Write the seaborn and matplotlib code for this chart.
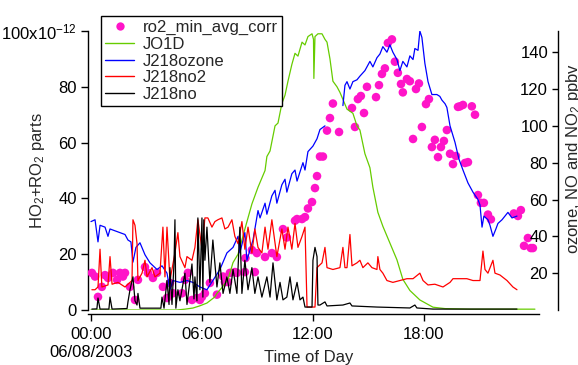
import numpy as np
import pandas as pd
import matplotlib
matplotlib.use("Agg")
import matplotlib.pyplot as plt
import seaborn as sns
from matplotlib.lines import Line2D
from matplotlib.ticker import FixedLocator, FuncFormatter

# ---------------- data ----------------
# time in hours after 00:00 on 06/08/2003
ro2_t = [0.05, 0.22, 0.38, 0.59, 0.76, 0.92, 1.19, 1.41, 1.57, 1.73, 1.84, 2.11, 2.38, 2.54,
         2.92, 3.08, 3.35, 3.57, 3.89, 4.11, 4.27, 4.43, 4.92, 5.08, 5.24, 5.46, 5.73, 5.89,
         6.00, 6.16, 6.43, 6.81, 7.14, 7.24, 7.41, 7.51, 7.78, 7.89, 8.32, 8.35, 8.70, 8.86,
         8.97, 9.41, 9.78, 10.05, 10.38, 10.59, 11.03, 11.14, 11.41, 11.57, 11.73, 11.95,
         12.11, 12.22, 12.38, 12.54, 12.76, 12.92, 13.08, 13.41, 14.11, 14.27, 14.43, 14.59,
         14.76, 14.92, 15.41, 15.57, 15.73, 15.89, 16.05, 16.27, 16.43, 16.59, 16.76, 16.86,
         17.08, 17.24, 17.41, 17.57, 17.73, 17.89, 18.11, 18.27, 18.43, 18.59, 18.76, 18.92,
         19.08, 19.24, 19.41, 19.57, 19.73, 19.84, 19.95, 20.11, 20.22, 20.38, 20.59, 20.76,
         20.92, 21.08, 21.24, 21.46, 21.62, 22.86, 23.08, 23.24, 23.41, 23.62, 23.78, 23.89]
# HO2+RO2 in units of 1e-12
ro2_v = [13.3, 12, 4.7, 8.3, 12.5, 11.5, 13.3, 10.8, 13.3, 12, 13.3, 8.3, 3.6, 10.8,
         15.4, 13.3, 11.5, 13.3, 8.3, 4.3, 9.7, 6, 6, 10.8, 13.3, 3.6, 4.3, 3.6,
         4.7, 6, 9.7, 5.5, 12, 10, 10, 13.3, 13.6, 13.3, 13.6, 18.6, 21.5, 13.6,
         20.4, 19, 20.4, 19, 29, 26, 32, 32.6, 32.6, 33.3, 36.4, 38.7,
         43.7, 48, 55, 55, 64.3, 68.8, 74, 63.8, 72.4, 65.6, 75.6, 76.7,
         70.6, 80, 76.3, 80.6, 84.6, 86.6, 95.7, 97, 89, 85, 81, 78,
         82.8, 82, 61.3, 79.2, 81.2, 65.6, 73.8, 75.6, 58.4, 61, 54.8, 58.4,
         60.6, 64.5, 56, 52.3, 55.2, 72.8, 73, 73.5, 52.7, 53, 73, 70,
         41.2, 38.4, 38.4, 34.2, 32.5, 34.6, 33.7, 35.8, 23, 25.8, 22.2, 22.2]

# JO1D, relative to full scale of its own (hidden) axis
jo1d_t = [0.00, 3.19, 4.65, 5.08, 5.51, 5.89, 6.27, 6.70, 6.81, 7.08, 7.41, 7.68, 7.95, 8.32,
          8.70, 9.03, 9.41, 9.51, 9.68, 9.95, 10.11, 10.32, 10.49, 10.65, 10.86, 11.03, 11.19,
          11.41, 11.57, 11.73, 11.95, 12.03, 12.05, 12.11, 12.27, 12.49, 12.65, 12.76, 12.92,
          13.08, 13.30, 13.46, 13.84, 14.16, 14.38, 14.54, 14.81, 15.08, 15.24, 15.51, 15.78,
          16.16, 16.54, 16.86, 17.24, 17.78, 18.49, 19.14, 20.49, 24.00]
jo1d_v = [0, 0, 0, 0.3, 0.7, 1.5, 2.5, 4.7, 6, 8, 11, 17, 20, 29,
          38, 44, 50, 55, 57, 66, 67, 74, 77, 82, 88, 92, 91,
          96, 95, 98, 99, 97, 83, 98, 99, 99, 97, 96, 90,
          82, 80, 78, 72, 70.5, 66, 64.5, 56, 51, 44, 35, 30,
          24, 18, 11, 7, 3.6, 1, 0.5, 0.3, 0.3]

# ozone (ppbv); NaN marks the data gap
ozone_t = [0.00, 0.22, 0.38, 0.49, 0.76, 0.92, 1.03, 1.30, 1.57, 1.84, 2.00, 2.16, 2.27, 2.43,
           2.65, 2.92, 3.19, 3.57, 3.84, 4.11, 4.27, 4.43, 4.81, 5.19, 5.51, 5.89, 6.27, 6.59,
           6.97, 7.35, 7.68, 7.95, 8.05, 8.32, 8.43, 8.76, 9.03, 9.14, 9.41, 9.51, 9.78, 9.95,
           10.05, 10.32, 10.49, 10.59, 10.86, 11.03, 11.14, 11.46, 11.57, 11.73, 12.00, 12.22,
           12.38, 12.65, 13.10, 13.62, 13.73, 13.84, 14.00, 14.16, 14.38, 14.54, 14.81, 15.08,
           15.24, 15.46, 15.62, 15.78, 16.00, 16.16, 16.32, 16.54, 16.70, 16.86, 17.08, 17.24,
           17.41, 17.51, 17.68, 17.78, 17.89, 18.05, 18.22, 18.43, 18.70, 18.86, 18.97, 19.14,
           19.24, 19.41, 19.68, 19.89, 20.11, 20.38, 20.65, 20.92, 21.03, 21.14, 21.24, 21.46,
           21.57, 21.73, 21.89, 22.00, 22.22, 22.38, 22.54, 22.76, 23.03]
ozone_v = [48, 49, 37, 46, 45, 40, 44, 43, 42, 41, 38, 37, 26, 34,
           36.5, 30, 25.6, 22, 24, 20, 11, 16, 15, 16, 15, 12.5, 11, 16,
           22, 31, 34, 40, 31, 42, 27, 38, 54, 50, 58, 52, 62, 65,
           58, 68, 71, 64, 74, 76, 70, 80, 76, 86, 89, 93,
           98, 100, np.nan, 111, 122, 124, 120, 124, 125, 127, 130, 135,
           132, 137, 139, 143, 140, 144, 140, 136, 130, 135, 132, 138,
           136, 142, 141, 151.5, 148, 134, 124, 117, 117, 116, 114, 112,
           110, 100, 91, 82, 76, 69, 64, 60, 57, 45, 51, 49,
           46, 40, 44, 47, 49, 51, 53, 50, 51]

# NO2 (ppbv)
no2_t = [0.05, 0.22, 0.38, 0.49, 0.59, 0.92, 1.03, 1.14, 1.46, 1.84, 2.11, 2.22, 2.27, 2.38,
         2.49, 2.54, 2.76, 2.92, 3.03, 3.30, 3.46, 3.73, 3.89, 4.00, 4.11, 4.27, 4.54, 4.70,
         4.81, 5.08, 5.19, 5.46, 5.62, 5.78, 6.00, 6.16, 6.32, 6.54, 6.70, 6.86, 7.08, 7.24,
         7.41, 7.62, 7.78, 7.95, 8.16, 8.32, 8.49, 8.70, 8.86, 9.03, 9.24, 9.41, 9.57, 9.78,
         10.05, 10.32, 10.49, 10.65, 10.86, 11.03, 11.19, 11.41, 11.57, 11.68, 12.11, 12.22,
         12.49, 12.65, 12.76, 13.08, 13.46, 13.62, 13.73, 13.84, 14.00, 14.11, 14.38, 14.54,
         14.70, 14.97, 15.19, 15.46, 15.51, 15.62, 15.78, 16.00, 16.32, 16.70, 17.08, 17.41,
         17.78, 17.95, 18.22, 18.59, 19.03, 19.41, 19.57, 19.95, 20.32, 20.65, 21.03, 21.19,
         21.30, 21.46, 21.73, 21.84, 22.11, 22.49, 22.81, 23.03]
no2_v = [11, 11, 12.5, 33, 12.5, 13.6, 29, 14, 15, 12.5, 15, 16, 49, 46,
         36, 16, 20, 27, 18, 23, 18, 20, 45, 18, 45, 16, 31, 42,
         29, 23, 29, 27, 34, 49, 33, 50, 50, 45, 48, 49, 50, 44,
         45, 49, 40, 36, 48, 33, 45, 31, 44, 34, 31, 45, 33, 49,
         29, 44, 33, 45, 33, 47, 34, 40, 45, 1.6, 1.6, 23,
         25.6, 34, 23, 22, 23, 34, 23, 23, 41, 24, 25.6, 27,
         23, 25.6, 23, 22, 29, 22, 20, 16, 15, 16, 17, 17,
         20, 16, 13.6, 14, 12.5, 15, 17, 17, 17, 16, 16, 32,
         22, 20, 27, 20, 19, 16, 12.5, 11]

# NO (ppbv)
no_t = [0.05, 0.32, 0.38, 0.49, 0.97, 1.03, 1.14, 1.95, 2.00, 2.11, 2.27, 2.38, 2.49, 2.54,
        2.65, 3.78, 3.84, 3.95, 4.11, 4.22, 4.27, 4.38, 4.49, 4.54, 4.59, 4.70, 4.81, 5.08,
        5.19, 5.46, 5.57, 5.62, 5.73, 5.78, 5.89, 6.00, 6.05, 6.10, 6.16, 6.27, 6.43, 6.59,
        6.81, 6.97, 7.14, 7.35, 7.51, 7.68, 7.89, 8.05, 8.16, 8.32, 8.49, 8.70, 8.86, 9.03,
        9.24, 9.51, 9.68, 9.84, 10.05, 10.22, 10.38, 10.59, 10.76, 10.92, 11.14, 11.30, 11.46,
        11.57, 11.95, 12.00, 12.11, 12.22, 12.27, 12.38, 12.65, 12.76, 13.62, 14.00, 14.11,
        15.46, 17.24, 17.51, 17.62, 18.49, 23.03]
no_v = [0.5, 0.6, 6.5, 0.5, 0.5, 7, 0.5, 0.8, 4.4, 11, 18, 5, 2.7, 9,
        1, 1, 7, 1, 16, 3, 23, 3, 25.6, 49, 1, 11, 5, 20,
        3, 25, 6, 18, 5, 50, 11, 50, 7, 49, 27, 45, 15, 38,
        12.5, 25.6, 9, 18, 9, 22, 9, 45, 9, 27, 11, 23, 9, 18,
        7, 18, 7, 25.6, 5.5, 15, 5.5, 7, 18, 5.5, 15, 5.5, 7,
        1.6, 1.6, 27, 34, 29, 2.7, 2.7, 4.4, 2.2, 2.7, 3.8, 2.2,
        1.6, 1.1, 2.7, 1.1, 0.5, 0.5]

legend_labels = ["ro2_min_avg_corr", "JO1D", "J218ozone", "J218no2", "J218no"]
x_ticks = [0, 6, 12, 18]
x_ticklabels = ["00:00\n06/08/2003", "06:00", "12:00", "18:00"]
left_ticks = [0, 20, 40, 60, 80, 100]
right_ticks = [20, 40, 60, 80, 100, 120, 140]

# ---------------- style ----------------
PINK = "#ff14c8"
GREEN = "#66cc00"
BLUE = "#0000ff"
RED = "#ff0000"
BLACK = "#000000"
FS = 12
LW = 0.9

sns.set_style("ticks")
plt.rcParams["font.family"] = ["Liberation Sans", "DejaVu Sans"]
plt.rcParams["mathtext.fontset"] = "custom"
plt.rcParams["mathtext.rm"] = "Liberation Sans"
plt.rcParams["mathtext.it"] = "Liberation Sans:italic"
plt.rcParams["mathtext.bf"] = "Liberation Sans:bold"

W, H = 578, 365
fig = plt.figure(figsize=(W / 100, H / 100), dpi=100)
fig.patch.set_facecolor("white")
ax = fig.add_axes([88 / W, 1 - 310 / H, 451 / W, 279 / H])
ax.set_facecolor("none")
ax_j = ax.twinx()
ax2 = ax.twinx()

# pink markers on left axis
sns.scatterplot(x=ro2_t, y=ro2_v, ax=ax, color=PINK, s=38, edgecolor="none",
                linewidth=0, legend=False, zorder=3)

# JO1D on a hidden axis
sns.lineplot(x=jo1d_t, y=jo1d_v, ax=ax_j, color=GREEN, linewidth=LW, estimator=None)
ax_j.set_ylim(0, 100)
ax_j.axis("off")

# ozone / NO2 / NO on right axis
oz = pd.DataFrame({"t": ozone_t, "v": ozone_v})
oz["seg"] = oz["v"].isna().cumsum()
oz = oz.dropna()
sns.lineplot(data=oz, x="t", y="v", units="seg", estimator=None, ax=ax2,
             color=BLUE, linewidth=LW)
sns.lineplot(x=no2_t, y=no2_v, ax=ax2, color=RED, linewidth=LW, estimator=None)
sns.lineplot(x=no_t, y=no_v, ax=ax2, color=BLACK, linewidth=LW, estimator=None)

# ---------------- axes ----------------
ax.set_xlim(-0.16, 24.22)
ax.set_ylim(0, 100)
ax.xaxis.set_major_locator(FixedLocator(x_ticks))
ax.set_xticklabels(x_ticklabels)
ax.yaxis.set_major_locator(FixedLocator(left_ticks))
ax.yaxis.set_major_formatter(FuncFormatter(
    lambda v, p: r"100x10$^{\mathrm{-12}}$" if v >= 100 else f"{v:.0f}"))
ax.tick_params(axis="both", labelsize=FS, length=5, width=1, direction="out",
               color="black", labelcolor="black")
ax.tick_params(axis="y", pad=3)
ax.tick_params(axis="x", pad=4.5)
for s in ["top", "right"]:
    ax.spines[s].set_visible(False)
ax.spines["bottom"].set_position(("outward", 3))
for s in ["left", "bottom"]:
    ax.spines[s].set_color("black")
    ax.spines[s].set_linewidth(1)
ax.set_xlabel("Time of Day", fontsize=FS)
ax.xaxis.set_label_coords(0.49, -0.142)
ax.set_ylabel("HO$_2$+RO$_2$ parts", fontsize=FS)
ax.yaxis.set_label_coords(-0.092, 0.5)
ax.grid(False)

ax2.set_ylim(0, 151.5)
ax2.yaxis.set_major_locator(FixedLocator(right_ticks))
for s in ["top", "left", "bottom"]:
    ax2.spines[s].set_visible(False)
ax2.spines["right"].set_position(("outward", 13.7))
ax2.spines["right"].set_color("black")
ax2.spines["right"].set_linewidth(1)
ax2.tick_params(axis="y", direction="in", length=4.3, width=1, pad=-7.2,
                labelsize=FS, color="black", labelcolor="black")
for tk in ax2.yaxis.get_major_ticks():
    tk.label2.set_horizontalalignment("right")
ax2.set_ylabel("ozone, NO and NO$_2$ ppbv", fontsize=FS)
ax2.yaxis.set_label_position("right")
ax2.yaxis.set_label_coords(1.056, 0.543)
ax2.set_xlabel("")
ax2.grid(False)

# ---------------- legend ----------------
handles = [
    Line2D([], [], marker="o", color=PINK, linestyle="none", markersize=6, markeredgewidth=0),
    Line2D([], [], color=GREEN, linewidth=1),
    Line2D([], [], color=BLUE, linewidth=1),
    Line2D([], [], color=RED, linewidth=1),
    Line2D([], [], color=BLACK, linewidth=1),
]
leg = fig.legend(handles, legend_labels, loc="upper left",
                 bbox_to_anchor=(101 / W, 1 - 16 / H), bbox_transform=fig.transFigure,
                 frameon=True, fancybox=False, edgecolor="black", framealpha=1,
                 fontsize=FS, handlelength=1.75, handletextpad=0.5, labelspacing=0.1,
                 borderpad=0.25, borderaxespad=0)
leg.get_frame().set_linewidth(1)

fig.savefig("out.png", dpi=100)
